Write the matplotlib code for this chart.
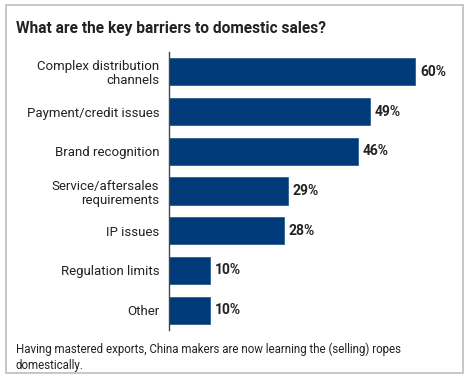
import matplotlib
matplotlib.use("Agg")
import matplotlib.pyplot as plt
from matplotlib.patches import Rectangle

# data
categories = ["Complex distribution\nchannels", "Payment/credit issues", "Brand recognition",
              "Service/aftersales\nrequirements", "IP issues", "Regulation limits", "Other"]
values = [60, 49, 46, 29, 28, 10, 10]
title = "What are the key barriers to domestic sales?"
caption = "Having mastered exports, China makers are now learning the (selling) ropes\ndomestically."

plt.rcParams['font.family'] = ['Roboto', 'DejaVu Sans']

fig = plt.figure(figsize=(4.69, 3.78), dpi=100)
fig.patches.append(Rectangle((6/469, 5/378), 457/469, 368/378, transform=fig.transFigure,
                             fill=False, edgecolor="#bdbdbd", linewidth=1.2))

ax = fig.add_axes([169/469, 48/378, 287/469, 278/378])
y = list(range(len(categories)))
ax.barh(y, values, height=0.68, color="#003a78", edgecolor="#2a5d96", linewidth=0.6)
for yi, v in zip(y, values):
    ax.text(v + 1.2, yi, f"{v}%", va="center", ha="left", fontsize=10,
            fontweight="bold", color="#222222")
ax.set_yticks(y)
ax.set_yticklabels(categories, fontsize=9.5, color="#222222", linespacing=1.1)
ax.set_ylim(len(categories) - 0.5, -0.5)
ax.set_xlim(0, 70)
ax.set_xticks([])
ax.tick_params(axis="y", length=0, pad=7)
for s in ["top", "right", "bottom"]:
    ax.spines[s].set_visible(False)
ax.spines["left"].set_color("#444444")
ax.spines["left"].set_linewidth(1.0)

fig.text(16/469, 1 - 28/378, title, fontsize=11.2, fontweight="bold", color="#222222",
         va="center", ha="left")
fig.text(16/469, 1 - 357/378, caption, fontsize=8.3, color="#222222", va="center",
         ha="left", linespacing=1.3)

fig.savefig("out.png", dpi=100)
